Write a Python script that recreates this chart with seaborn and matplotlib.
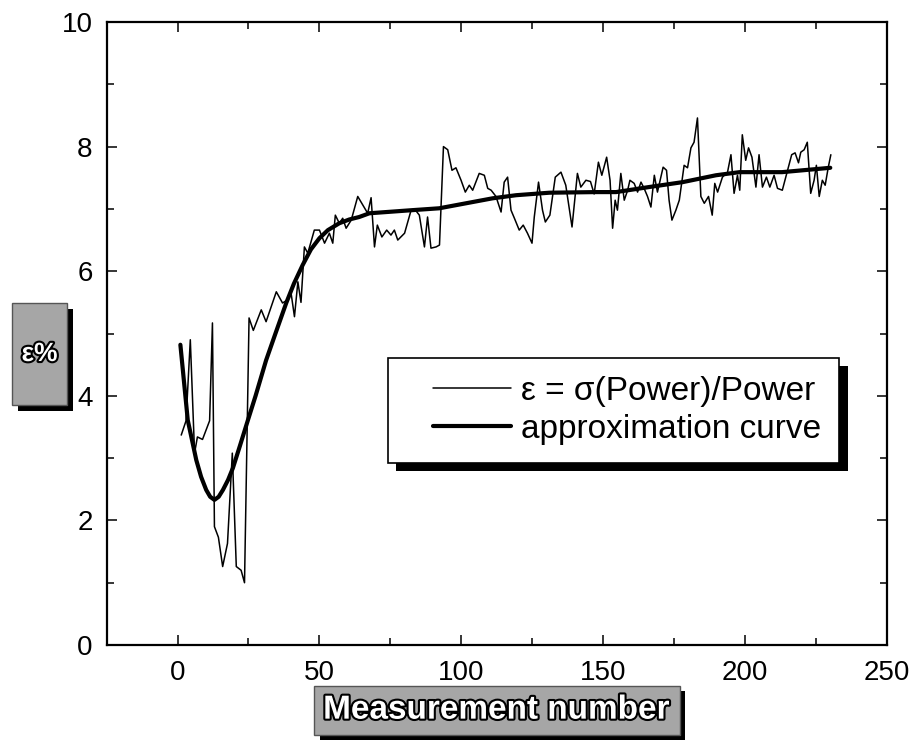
import numpy as np
import pandas as pd
import matplotlib
matplotlib.use("Agg")
import matplotlib.pyplot as plt
import matplotlib.patheffects as pe
from matplotlib.patches import Rectangle
from matplotlib.ticker import MultipleLocator
from matplotlib.legend_handler import HandlerLine2D
import seaborn as sns

meas_x = [1.3, 3, 4.5, 6, 7, 8.8, 11.3, 12.3, 13, 14.4, 15.9, 17.6, 19.3, 20.7, 22.4, 23.6,
          25.2, 26.7, 29.5, 31.2, 34.8, 37, 38.8, 40, 41.2, 42.4, 43.5, 44.7, 45.9, 48.2,
          50, 51.8, 53.5, 54.7, 55.6, 57, 58.2, 59.4, 61.2, 63.5, 67, 68.2, 69.4, 70.4,
          72, 73.7, 75.2, 76.4, 77.6, 80, 82.3, 83.5, 85.2, 87, 88.1, 89.3, 91.1, 92.3,
          93.7, 95.2, 96.7, 98.1, 99.9, 101.4, 102.8, 104, 106.3, 108.1, 109.3, 110.5,
          112.2, 114, 115.1, 116.3, 117.5, 118.7, 120.4, 121.8, 123.3, 124.9, 125.7,
          127.2, 128.6, 129.6, 131.2, 133.1, 135.1, 136.8, 139, 140.9, 142.1, 143.9,
          145.5, 146.8, 148.3, 149.5, 151.2, 152.4, 153.3, 154.2, 155, 156.2, 157.4,
          158.6, 159.4, 160.9, 162.1, 163.3, 164.4, 165.6, 166.8, 168, 169.1, 171.1,
          172.3, 173.2, 174.2, 175.6, 176.8, 178.5, 179.7, 180.9, 182, 183.2, 184.4,
          185.6, 187.1, 188.4, 189.3, 190.3, 192, 193.8, 195, 196.1, 197.3, 198.1, 199,
          200.2, 201.2, 202.4, 203.8, 204.9, 206.1, 207.5, 208.7, 210.2, 211.4, 213.1,
          214.5, 216.4, 217.6, 218.8, 219.6, 220.8, 221.9, 223.1, 224.3, 225.1, 226.1,
          227.2, 228.2, 229.3, 230.2]
meas_y = [3.37, 3.6, 4.9, 3.08, 3.34, 3.3, 3.6, 5.17, 1.9, 1.73, 1.26, 1.63, 3.08, 1.26, 1.2, 1.0,
          5.25, 5.05, 5.38, 5.19, 5.67, 5.49, 5.54, 5.65, 5.27, 5.83, 5.5, 6.39, 6.29, 6.66,
          6.66, 6.45, 6.61, 6.45, 6.9, 6.77, 6.85, 6.69, 6.82, 7.2, 6.93, 7.18, 6.39, 6.74,
          6.55, 6.66, 6.58, 6.66, 6.5, 6.61, 6.98, 7.0, 6.9, 6.39, 6.87, 6.37, 6.39, 6.42,
          8.0, 7.95, 7.62, 7.66, 7.46, 7.27, 7.38, 7.3, 7.57, 7.54, 7.33, 7.3,
          7.2, 6.95, 7.43, 7.51, 6.98, 6.85, 6.66, 6.74, 6.61, 6.45, 6.87,
          7.43, 6.98, 6.79, 6.9, 7.51, 7.59, 7.38, 6.71, 7.57, 7.35, 7.46,
          7.44, 7.24, 7.75, 7.54, 7.83, 7.46, 6.69, 7.14, 6.98, 7.57, 7.14,
          7.3, 7.46, 7.41, 7.27, 7.43, 7.33, 7.2, 7.03, 7.54, 7.27, 7.67,
          7.62, 7.14, 6.82, 6.98, 7.14, 7.7, 7.66, 7.98, 8.07, 8.46, 7.2,
          7.09, 7.2, 6.9, 7.41, 7.27, 7.51, 7.59, 7.87, 7.25, 7.54, 7.3, 8.19,
          7.78, 7.98, 7.83, 7.35, 7.87, 7.35, 7.51, 7.35, 7.54, 7.33, 7.3,
          7.54, 7.87, 7.9, 7.74, 7.91, 7.95, 8.07, 7.25, 7.46, 7.7, 7.2,
          7.46, 7.38, 7.67, 7.87]

# Approximation curve
approx_x = [1, 3.6, 6.6, 8.3, 10.1, 11.5, 13, 14.5, 16, 17.8, 19.5, 22, 24.8, 27.5, 31.2,
            34.5, 38.3, 41, 44.1, 47, 50, 53, 57, 60.5, 64, 67.6, 82.7, 92.2, 101.6, 111,
            119.3, 131, 147.4, 154.5, 166, 178, 189.7, 198, 213, 230]
approx_y = [4.82, 3.61, 2.97, 2.7, 2.49, 2.38, 2.33, 2.38, 2.49, 2.65, 2.84, 3.2, 3.61, 4.0, 4.57,
            5.0, 5.49, 5.8, 6.1, 6.35, 6.53, 6.66, 6.77, 6.83, 6.87, 6.93, 6.98, 7.01, 7.09, 7.17,
            7.22, 7.26, 7.27, 7.27, 7.35, 7.43, 7.54, 7.59, 7.59, 7.66]

labels = ["\u03b5 = \u03c3(Power)/Power", "approximation curve"]

sns.set_style("ticks")
plt.rcParams['font.family'] = ['Liberation Sans', 'DejaVu Sans']

fig = plt.figure(figsize=(9.11, 7.51), dpi=100)
ax = fig.add_axes([0.117, 0.1411, 0.8567, 0.8296])

meas = pd.DataFrame({'x': meas_x, 'y': meas_y})
appr = pd.DataFrame({'x': approx_x, 'y': approx_y})
sns.lineplot(data=meas, x='x', y='y', ax=ax, color='black', lw=1.1,
             estimator=None, sort=False, label=labels[0])
sns.lineplot(data=appr, x='x', y='y', ax=ax, color='black', lw=3.0,
             estimator=None, sort=False, label=labels[1])

ax.set_xlim(-25, 250)
ax.set_ylim(0, 10)
ax.xaxis.set_major_locator(MultipleLocator(50))
ax.xaxis.set_minor_locator(MultipleLocator(25))
ax.yaxis.set_major_locator(MultipleLocator(2))
ax.yaxis.set_minor_locator(MultipleLocator(1))
ax.tick_params(which='both', direction='in', top=True, right=True, width=1.1,
               labelsize=20, colors='black')
ax.tick_params(which='major', length=7)
ax.tick_params(which='minor', length=5)
ax.tick_params(axis='x', pad=11)
ax.tick_params(axis='y', pad=10)
for s in ax.spines.values():
    s.set_linewidth(1.6)
    s.set_color('black')

shadow = [pe.withSimplePatchShadow(offset=(4, -4), shadow_rgbFace='black', alpha=1.0)]
outline = [pe.withStroke(linewidth=3, foreground='black')]

ax.set_ylabel('')
xl = ax.set_xlabel('Measurement number', fontsize=24, fontweight='bold', color='white',
                   labelpad=6,
                   bbox=dict(boxstyle='square,pad=0.27', facecolor='#a6a6a6',
                             edgecolor='#555555', lw=1))
xl.set_path_effects(outline)
fig.canvas.draw()
xl.get_bbox_patch().set_path_effects(shadow)

# y label box
ybox = Rectangle((0.0132, 0.4607), 0.0603, 0.1358, transform=fig.transFigure,
                 facecolor='#a6a6a6', edgecolor='#555555', lw=1, zorder=1)
ybox.set_path_effects(shadow)
fig.patches.append(ybox)
yt = fig.text(0.0434, 0.5286, '\u03b5%', fontsize=19, fontweight='bold', color='white',
              ha='center', va='center', zorder=2)
yt.set_path_effects(outline)

leg = ax.legend(loc='upper left', bbox_to_anchor=(0.36, 0.461), borderaxespad=0,
                fontsize=24, frameon=True, fancybox=False, handlelength=3.15,
                handletextpad=0.3, borderpad=0.55, labelspacing=0.2, labelcolor='black',
                handler_map={ln: HandlerLine2D(xpad=0.8) for ln in ax.get_lines()})
frame = leg.get_frame()
frame.set_edgecolor('black')
frame.set_linewidth(1.2)
frame.set_facecolor('white')
frame.set_alpha(1)
frame.set_path_effects([pe.withSimplePatchShadow(offset=(6, -6), shadow_rgbFace='black',
                                                 alpha=1.0)])

fig.savefig('out.png', dpi=100)
